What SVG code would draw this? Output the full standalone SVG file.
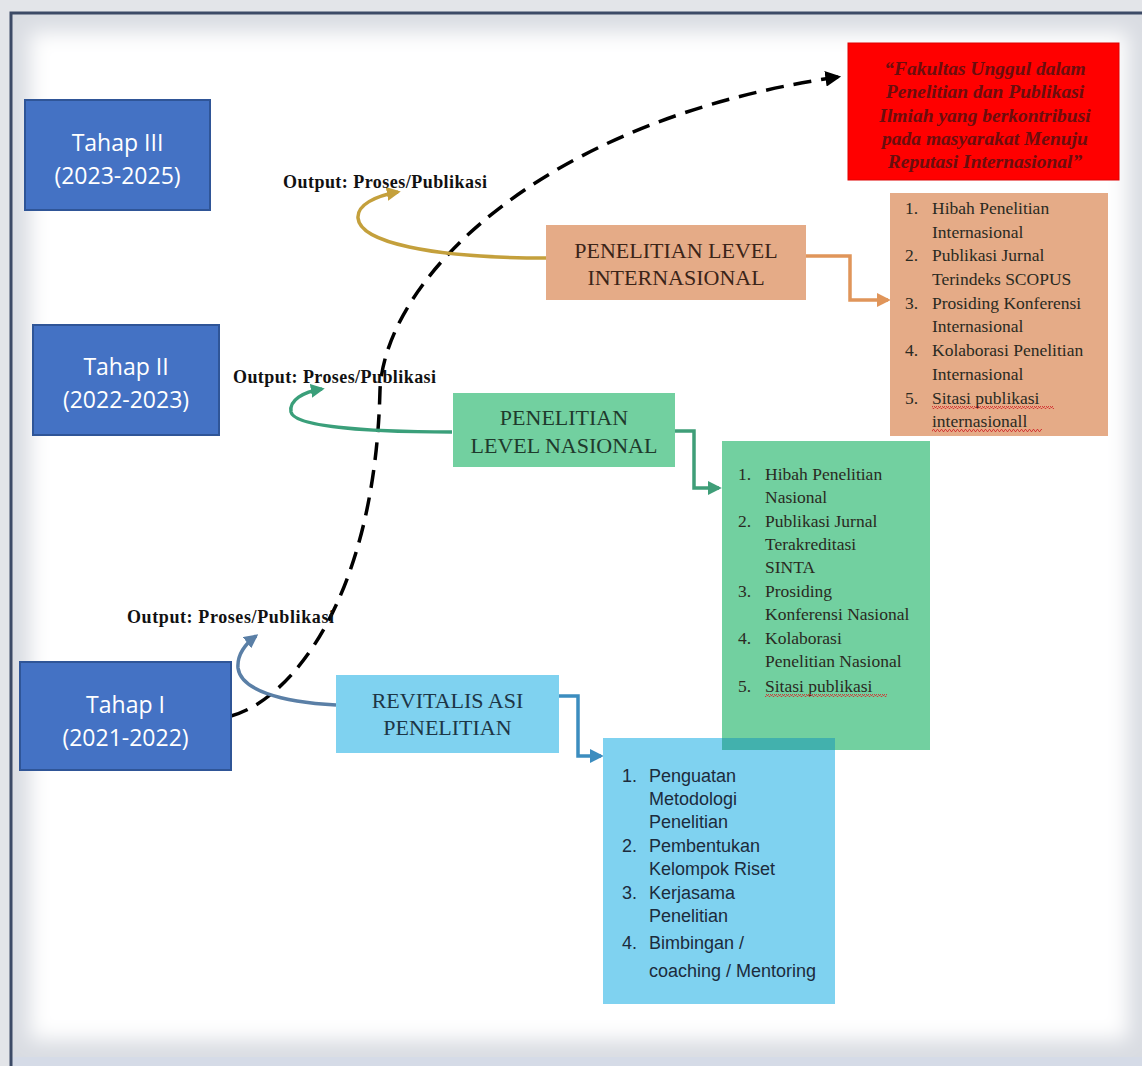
<svg xmlns="http://www.w3.org/2000/svg" width="1142" height="1066" viewBox="0 0 1142 1066">
<defs>
<style>
.tahap{fill:#4472c4;stroke:#2f5597;stroke-width:2}
.tt{font-family:"Open Sans","Liberation Sans",sans-serif;font-size:23px;fill:#ffffff;text-anchor:middle}
.out{font-family:"Liberation Serif",serif;font-size:18px;font-weight:bold;fill:#111111}
.title{font-family:"Liberation Serif",serif;font-size:22px;text-anchor:middle}
.ls{font-family:"Liberation Serif",serif;font-size:17.5px;fill:#2a2a22}
.lb{font-family:"Liberation Sans",Arial,sans-serif;font-size:18px;fill:#1c2b3c}
.red{font-family:"Liberation Serif",serif;font-size:19.5px;font-weight:bold;font-style:italic;fill:#6a0e0e;text-anchor:middle}
.conn{fill:none;stroke-width:3.5}
</style>
<pattern id="wavy" width="4" height="3" patternUnits="userSpaceOnUse">
<path d="M0,2.5 L1,0.5 L2,0.5 L3,2.5 L4,2.5" fill="none" stroke="#d23030" stroke-width="0.9"/>
</pattern>
<marker id="aBlack" viewBox="0 0 10 10" refX="8" refY="5" markerWidth="4.5" markerHeight="4.5" orient="auto" markerUnits="strokeWidth"><path d="M0,0 L10,5 L0,10 z" fill="#000"/></marker>
<marker id="aGold" viewBox="0 0 10 10" refX="8" refY="5" markerWidth="4" markerHeight="4" orient="auto" markerUnits="strokeWidth"><path d="M0,0 L10,5 L0,10 z" fill="#c4a03c"/></marker>
<marker id="aGreen" viewBox="0 0 10 10" refX="8" refY="5" markerWidth="4" markerHeight="4" orient="auto" markerUnits="strokeWidth"><path d="M0,0 L10,5 L0,10 z" fill="#3a9f7a"/></marker>
<marker id="aSlate" viewBox="0 0 10 10" refX="8" refY="5" markerWidth="4" markerHeight="4" orient="auto" markerUnits="strokeWidth"><path d="M0,0 L10,5 L0,10 z" fill="#5a7fa6"/></marker>
<marker id="aOrange" viewBox="0 0 10 10" refX="8" refY="5" markerWidth="4" markerHeight="4" orient="auto" markerUnits="strokeWidth"><path d="M0,0 L10,5 L0,10 z" fill="#e0955a"/></marker>
<marker id="aGreen2" viewBox="0 0 10 10" refX="8" refY="5" markerWidth="4" markerHeight="4" orient="auto" markerUnits="strokeWidth"><path d="M0,0 L10,5 L0,10 z" fill="#3f9e78"/></marker>
<marker id="aBlue" viewBox="0 0 10 10" refX="8" refY="5" markerWidth="4" markerHeight="4" orient="auto" markerUnits="strokeWidth"><path d="M0,0 L10,5 L0,10 z" fill="#3c8dbf"/></marker>
<filter id="soft" x="-5%" y="-5%" width="110%" height="110%"><feGaussianBlur stdDeviation="10"/></filter>
</defs>

<!-- frame -->
<g id="frame">
<rect x="0" y="0" width="1142" height="1066" fill="#e3e5e9"/>
<rect x="12" y="14" width="1130" height="1044" fill="#d9dce2"/>
<rect x="30" y="32" width="1098" height="1008" fill="#ffffff" filter="url(#soft)"/>
<rect x="12" y="1057" width="1130" height="9" fill="#d5dbe7"/>
<path d="M11,1066 L11,13 L1142,13" fill="none" stroke="#3c4a66" stroke-width="3"/>
</g>

<!-- connectors -->
<g id="connectors">
<path class="conn" d="M231,716 C290,700 375,600 380,390 C385,280 540,120 838,77" stroke="#000" stroke-dasharray="18 10" marker-end="url(#aBlack)"/>
<path class="conn" d="M546,258 C430,258 360,242 358,218 C357,205 375,196 398,192" stroke="#c4a03c" marker-end="url(#aGold)"/>
<path class="conn" d="M452,432 C360,432 294,426 291,412 C289,400 303,392 322,389" stroke="#3a9f7a" marker-end="url(#aGreen)"/>
<path class="conn" d="M336,705 C280,702 241,690 238,668 C237,655 244,645 256,636" stroke="#5a7fa6" marker-end="url(#aSlate)"/>
<path class="conn" d="M806,256 L850,256 L850,300 L888,300" stroke="#e0955a" stroke-width="3" marker-end="url(#aOrange)"/>
<path class="conn" d="M675,431 L694,431 L694,488 L719,488" stroke="#3f9e78" stroke-width="3" marker-end="url(#aGreen2)"/>
<path class="conn" d="M559,696 L578,696 L578,756 L601,756" stroke="#3c8dbf" stroke-width="3" marker-end="url(#aBlue)"/>
</g>

<!-- output labels -->
<g id="output-3"><text class="out" x="283" y="188" textLength="204">Output: Proses/Publikasi</text></g>
<g id="output-2"><text class="out" x="233" y="383" textLength="203">Output: Proses/Publikasi</text></g>
<g id="output-1"><text class="out" x="127" y="623" textLength="207">Output: Proses/Publikasi</text></g>

<!-- tahap boxes -->
<g id="tahap-3">
<rect class="tahap" x="25" y="100" width="185" height="110"/>
<text class="tt" x="117.5" y="151">Tahap III</text>
<text class="tt" x="117.5" y="184">(2023-2025)</text>
</g>
<g id="tahap-2">
<rect class="tahap" x="33" y="325" width="186" height="110"/>
<text class="tt" x="126" y="375">Tahap II</text>
<text class="tt" x="126" y="408">(2022-2023)</text>
</g>
<g id="tahap-1">
<rect class="tahap" x="20" y="662" width="211" height="108"/>
<text class="tt" x="125.5" y="713">Tahap I</text>
<text class="tt" x="125.5" y="746">(2021-2022)</text>
</g>

<!-- goal -->
<g id="goal">
<rect x="848" y="43" width="271" height="137" fill="#ff0000" stroke="#e00000" stroke-width="1"/>
<text class="red" x="985" y="75">“Fakultas Unggul dalam</text>
<text class="red" x="985" y="98">Penelitian dan Publikasi</text>
<text class="red" x="985" y="122">Ilmiah yang berkontribusi</text>
<text class="red" x="985" y="145">pada masyarakat Menuju</text>
<text class="red" x="985" y="168">Reputasi Internasional”</text>
</g>

<!-- international -->
<g id="intl">
<rect x="546" y="225" width="260" height="75" fill="#e5ab87"/>
<text class="title" x="676" y="258" fill="#3b2418">PENELITIAN LEVEL</text>
<text class="title" x="676" y="285" fill="#3b2418">INTERNASIONAL</text>
</g>
<g id="intl-list">
<rect x="890" y="193" width="218" height="243" fill="#e5ab87"/>
<text class="ls" x="905" y="214">1.</text><text class="ls" x="932" y="214">Hibah Penelitian</text>
<text class="ls" x="932" y="238">Internasional</text>
<text class="ls" x="905" y="261">2.</text><text class="ls" x="932" y="261">Publikasi Jurnal</text>
<text class="ls" x="932" y="285">Terindeks SCOPUS</text>
<text class="ls" x="905" y="309">3.</text><text class="ls" x="932" y="309">Prosiding Konferensi</text>
<text class="ls" x="932" y="332">Internasional</text>
<text class="ls" x="905" y="356">4.</text><text class="ls" x="932" y="356">Kolaborasi Penelitian</text>
<text class="ls" x="932" y="380">Internasional</text>
<text class="ls" x="905" y="404">5.</text><text class="ls" x="932" y="404">Sitasi publikasi</text>
<text class="ls" x="932" y="427">internasionall</text>
<rect x="932" y="406" width="122" height="3" fill="url(#wavy)"/>
<rect x="932" y="429" width="110" height="3" fill="url(#wavy)"/>
</g>

<!-- revitalisasi -->
<g id="revit">
<rect x="336" y="675" width="223" height="78" fill="#7fd2f0"/>
<text class="title" x="447.5" y="708" fill="#1d3646" font-size="21">REVITALIS ASI</text>
<text class="title" x="447.5" y="735" fill="#1d3646" font-size="21">PENELITIAN</text>
</g>
<g id="revit-list">
<rect x="603" y="738" width="232" height="266" fill="#7fd2f0"/>
<text class="lb" x="622" y="782">1.</text><text class="lb" x="649" y="782">Penguatan</text>
<text class="lb" x="649" y="805">Metodologi</text>
<text class="lb" x="649" y="828">Penelitian</text>
<text class="lb" x="622" y="852">2.</text><text class="lb" x="649" y="852">Pembentukan</text>
<text class="lb" x="649" y="875">Kelompok Riset</text>
<text class="lb" x="622" y="899">3.</text><text class="lb" x="649" y="899">Kerjasama</text>
<text class="lb" x="649" y="922">Penelitian</text>
<text class="lb" x="622" y="949">4.</text><text class="lb" x="649" y="949">Bimbingan /</text>
<text class="lb" x="649" y="977">coaching / Mentoring</text>
</g>

<!-- national -->
<g id="nasional">
<rect x="453" y="393" width="222" height="74" fill="#72d0a0"/>
<text class="title" x="564" y="425" fill="#1f3a2c">PENELITIAN</text>
<text class="title" x="564" y="453" fill="#1f3a2c">LEVEL NASIONAL</text>
</g>
<g id="nasional-list">
<rect x="722" y="441" width="208" height="309" fill="#72d0a0"/>
<rect x="722" y="738" width="113" height="12" fill="#42b1ad"/>
<text class="ls" x="738" y="480">1.</text><text class="ls" x="765" y="480">Hibah Penelitian</text>
<text class="ls" x="765" y="503">Nasional</text>
<text class="ls" x="738" y="527">2.</text><text class="ls" x="765" y="527">Publikasi Jurnal</text>
<text class="ls" x="765" y="550">Terakreditasi</text>
<text class="ls" x="765" y="573">SINTA</text>
<text class="ls" x="738" y="597">3.</text><text class="ls" x="765" y="597">Prosiding</text>
<text class="ls" x="765" y="620">Konferensi Nasional</text>
<text class="ls" x="738" y="644">4.</text><text class="ls" x="765" y="644">Kolaborasi</text>
<text class="ls" x="765" y="667">Penelitian Nasional</text>
<text class="ls" x="738" y="692">5.</text><text class="ls" x="765" y="692">Sitasi publikasi</text>
<rect x="765" y="694" width="122" height="3" fill="url(#wavy)"/>
</g>
</svg>
